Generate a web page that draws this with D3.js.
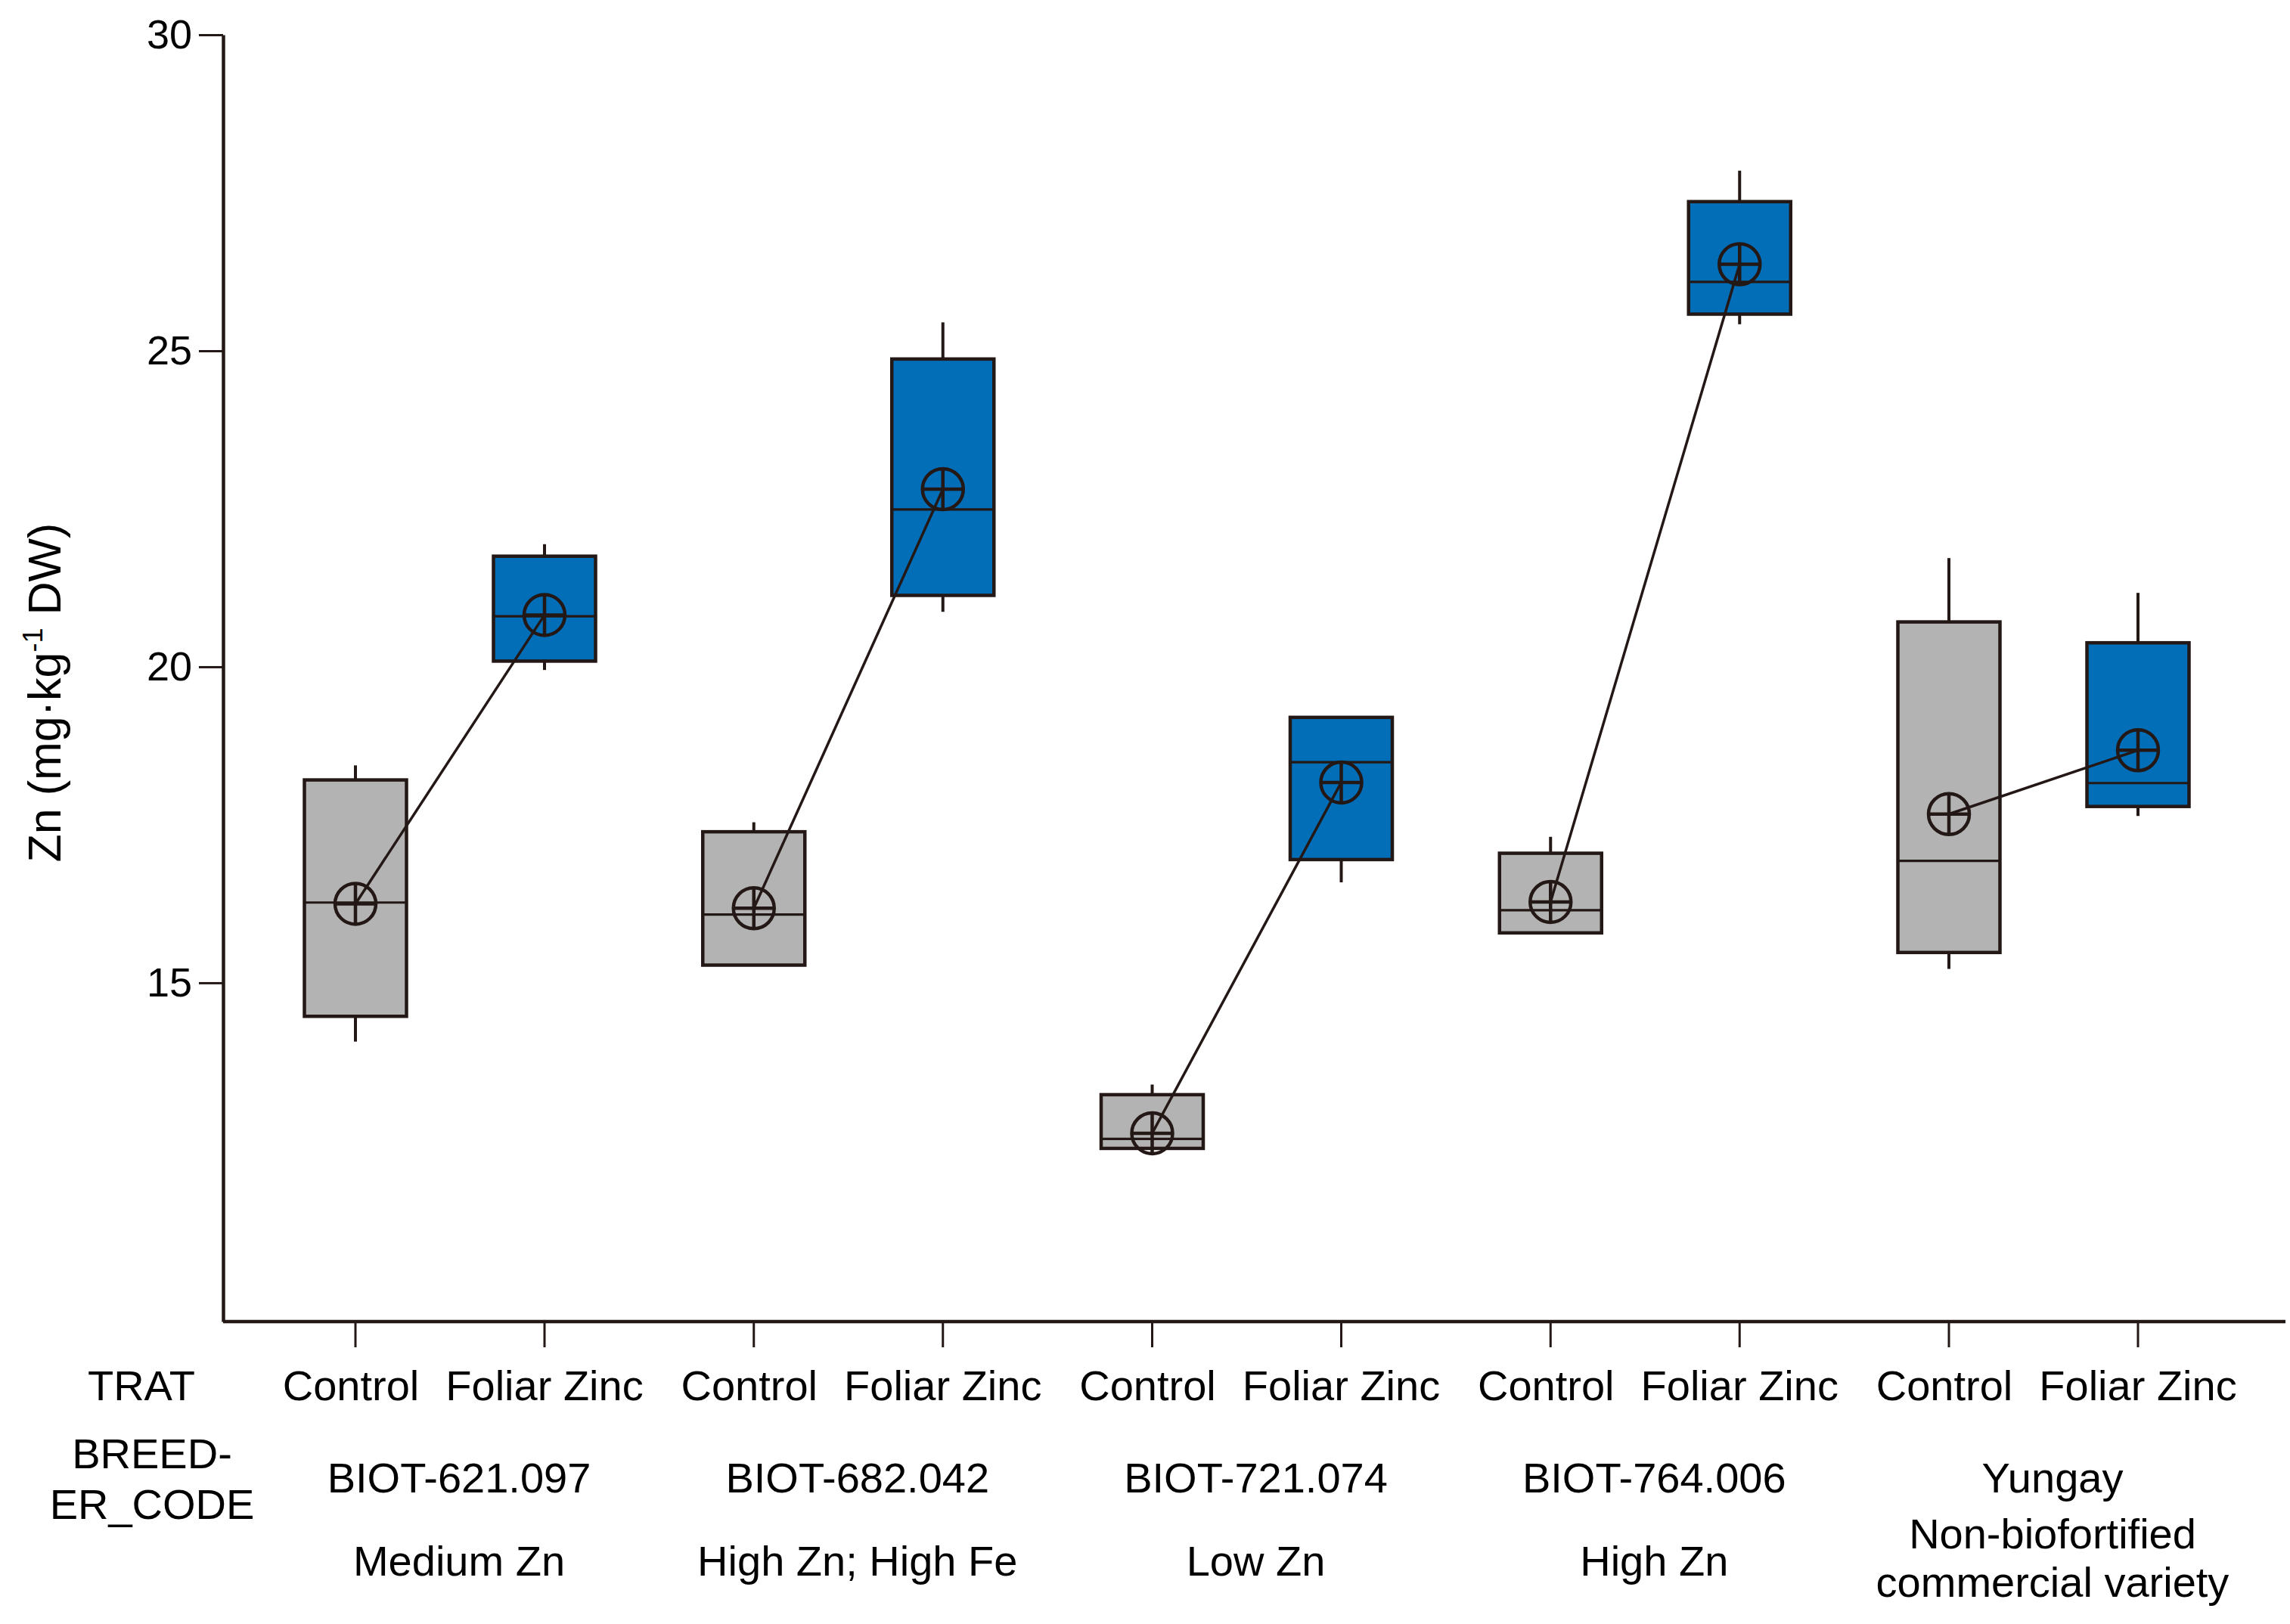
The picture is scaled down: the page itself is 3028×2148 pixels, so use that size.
<!DOCTYPE html>
<html>
<head>
<meta charset="utf-8">
<script src="https://cdn.jsdelivr.net/npm/d3@7"></script>
<style>
  body { margin: 0; background: #fff; }
  svg { display: block; font-family: "Liberation Sans", Arial, sans-serif; }
</style>
</head>
<body>
<div id="chart"></div>
<script>
const breeders = ["BIOT-621.097", "BIOT-682.042", "BIOT-721.074", "BIOT-764.006", "Yungay"];
const descriptors = [["Medium Zn"], ["High Zn; High Fe"], ["Low Zn"], ["High Zn"], ["Non-biofortified", "commercial variety"]];
const treatments = ["Control", "Foliar Zinc"];
const yTicks = [15, 20, 25, 30];

// order: Control, Foliar Zinc for each breeder
const whiskerLow = [14.07, 19.95, 15.28, 20.87, 12.38, 16.59, 15.79, 25.42, 15.22, 17.64];
const q1 = [14.47, 20.09, 15.28, 21.13, 12.38, 16.95, 15.79, 25.58, 15.48, 17.79];
const median = [16.27, 20.8, 16.08, 22.49, 12.53, 18.49, 16.15, 26.09, 16.93, 18.16];
const q3 = [18.21, 21.75, 17.39, 24.87, 13.23, 19.2, 17.05, 27.36, 20.71, 20.38];
const whiskerHigh = [18.44, 21.94, 17.54, 25.45, 13.39, 19.2, 17.31, 27.85, 21.72, 21.17];
const mean = [16.25, 20.82, 16.18, 22.81, 12.62, 18.17, 16.28, 26.37, 17.67, 18.68];

const W = 3028, H = 2148;
const margin = { top: 46, right: 6, bottom: 400, left: 295 };
const width = W - margin.left - margin.right;
const height = H - margin.top - margin.bottom;

const stroke = "#231815";
const fills = { "Control": "#b3b3b3", "Foliar Zinc": "#036eb8" };
const boxWidth = 135;
const dotRadius = 27;

const data = [];
breeders.forEach((b, i) => {
  treatments.forEach((t, j) => {
    const k = i * 2 + j;
    data.push({
      breeder: b, trat: t,
      lo: whiskerLow[k], q1: q1[k], med: median[k], q3: q3[k], hi: whiskerHigh[k], mean: mean[k],
    });
  });
});

const xGroup = d3.scalePoint().domain(breeders).range([300, 2407]);
const xInner = d3.scalePoint().domain(treatments).range([-125, 125]);
const xPos = (d) => xGroup(d.breeder) + xInner(d.trat);

const y = d3.scaleLinear().domain([9.64, 30]).range([height, 0]);

const svg = d3.select("#chart").append("svg")
  .attr("width", W).attr("height", H)
  .attr("viewBox", [0, 0, W, H]);

svg.append("rect").attr("width", W).attr("height", H).attr("fill", "#fff");

const g = svg.append("g").attr("transform", `translate(${margin.left},${margin.top})`);

// y axis
const yAxis = g.append("g")
  .call(d3.axisLeft(y).tickValues(yTicks).tickSize(32).tickSizeOuter(0).tickPadding(9));
yAxis.select(".domain").attr("stroke", stroke).attr("stroke-width", 4.5);
yAxis.selectAll(".tick line").attr("stroke", stroke).attr("stroke-width", 3);
yAxis.selectAll(".tick text").attr("fill", "#000").attr("font-size", 54)
  .attr("font-family", "Liberation Sans, Arial, sans-serif");

// x axis
g.append("line")
  .attr("x1", 0).attr("x2", width)
  .attr("y1", height).attr("y2", height)
  .attr("stroke", stroke).attr("stroke-width", 4.5);

g.append("g").selectAll("line").data(data).join("line")
  .attr("x1", xPos).attr("x2", xPos)
  .attr("y1", height).attr("y2", height + 34)
  .attr("stroke", stroke).attr("stroke-width", 3);

// whiskers
const boxes = g.append("g");
boxes.selectAll(".whi").data(data.filter((d) => d.hi > d.q3)).join("line")
  .attr("x1", xPos).attr("x2", xPos)
  .attr("y1", (d) => y(d.hi)).attr("y2", (d) => y(d.q3))
  .attr("stroke", stroke).attr("stroke-width", 4);
boxes.selectAll(".wlo").data(data.filter((d) => d.lo < d.q1)).join("line")
  .attr("x1", xPos).attr("x2", xPos)
  .attr("y1", (d) => y(d.lo)).attr("y2", (d) => y(d.q1))
  .attr("stroke", stroke).attr("stroke-width", 4);

// boxes
boxes.selectAll("rect").data(data).join("rect")
  .attr("x", (d) => xPos(d) - boxWidth / 2)
  .attr("width", boxWidth)
  .attr("y", (d) => y(d.q3))
  .attr("height", (d) => y(d.q1) - y(d.q3))
  .attr("fill", (d) => fills[d.trat])
  .attr("stroke", stroke).attr("stroke-width", 4.5);

// medians
boxes.selectAll(".med").data(data).join("line")
  .attr("x1", (d) => xPos(d) - boxWidth / 2).attr("x2", (d) => xPos(d) + boxWidth / 2)
  .attr("y1", (d) => y(d.med)).attr("y2", (d) => y(d.med))
  .attr("stroke", stroke).attr("stroke-width", 3.2);

// mean connecting lines
const line = d3.line().x(xPos).y((d) => y(d.mean));
g.append("g").selectAll("path")
  .data(breeders.map((b) => data.filter((d) => d.breeder === b)))
  .join("path")
  .attr("d", line)
  .attr("fill", "none").attr("stroke", stroke).attr("stroke-width", 3.5);

// mean markers
const marks = g.append("g").selectAll("g").data(data).join("g")
  .attr("transform", (d) => `translate(${xPos(d)},${y(d.mean)})`)
  .attr("stroke", stroke).attr("stroke-width", 4.5).attr("fill", "none");
marks.append("circle").attr("r", dotRadius);
marks.append("line").attr("x1", -dotRadius).attr("x2", dotRadius);
marks.append("line").attr("y1", -dotRadius).attr("y2", dotRadius);

// y label
const yLabel = svg.append("text")
  .attr("transform", "translate(80,916) rotate(-90)")
  .attr("text-anchor", "middle")
  .attr("font-size", 61)
  .attr("fill", "#000");
yLabel.append("tspan").text("Zn (mg·kg");
yLabel.append("tspan").attr("font-size", 36).attr("dy", -24).text("-1");
yLabel.append("tspan").attr("dy", 24).text(" DW)");

// category labels
const labels = svg.append("g")
  .attr("transform", `translate(${margin.left},0)`)
  .attr("font-size", 56).attr("fill", "#000").attr("text-anchor", "middle");

labels.selectAll(".trat").data(data).join("text")
  .attr("x", (d) => xPos(d) + (d.trat === "Control" ? -6 : 0)).attr("y", 1852)
  .text((d) => d.trat);

labels.selectAll(".breed").data(breeders).join("text")
  .attr("x", (d) => xGroup(d) + 12).attr("y", 1974)
  .text((d) => d);

labels.selectAll(".desc").data(descriptors).join("text")
  .attr("x", (d, i) => xGroup(breeders[i]) + 12)
  .attr("y", (d) => (d.length > 1 ? 2048 : 2084))
  .selectAll("tspan").data((d) => d).join("tspan")
  .attr("x", function () { return d3.select(this.parentNode).attr("x"); })
  .attr("dy", (d, i) => (i === 0 ? 0 : 64))
  .text((d) => d);

const left = svg.append("g").attr("font-size", 56).attr("fill", "#000").attr("text-anchor", "middle");
left.append("text").attr("x", 187).attr("y", 1852).text("TRAT");
left.append("text").attr("x", 201).attr("y", 1942).text("BREED-");
left.append("text").attr("x", 201).attr("y", 2009).text("ER_CODE");
</script>
</body>
</html>
